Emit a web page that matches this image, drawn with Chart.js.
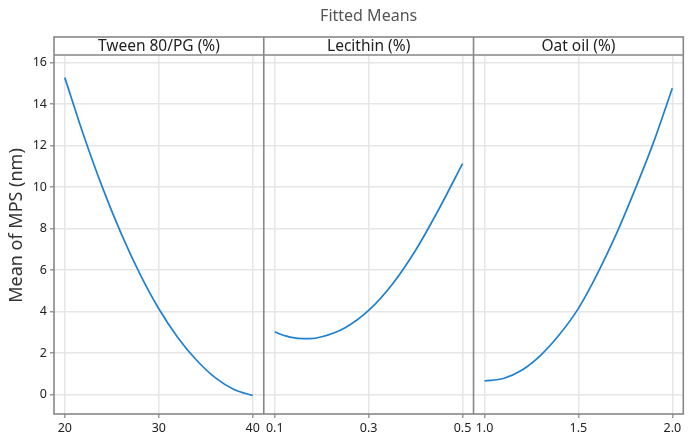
<!DOCTYPE html>
<html><head><meta charset="utf-8">
<script src="https://cdn.jsdelivr.net/npm/chart.js@4.4.1/dist/chart.umd.min.js"></script>
<style>html,body{margin:0;padding:0;background:#fff;}#wrap{width:697px;height:444px;position:relative;}</style>
</head><body><div id="wrap"><canvas id="c" width="697" height="444"></canvas></div>
<script>
const chartTitle = 'Fitted Means';
const yAxisTitle = 'Mean of MPS (nm)';
const panelNames = ['Tween 80/PG (%)', 'Lecithin (%)', 'Oat oil (%)'];

const tweenX = [20, 22, 24, 26, 28, 30, 32, 34, 36, 38, 40];
const tweenY = [15.27, 12.49, 9.98, 7.75, 5.80, 4.13, 2.76, 1.66, 0.81, 0.24, -0.05];
const lecithinX = [0.10, 0.125, 0.15, 0.175, 0.20, 0.25, 0.30, 0.35, 0.40, 0.45, 0.50];
const lecithinY = [3.01, 2.81, 2.70, 2.69, 2.78, 3.22, 4.05, 5.30, 6.95, 8.95, 11.13];
const oatX = [1.0, 1.1, 1.2, 1.3, 1.4, 1.5, 1.6, 1.7, 1.8, 1.9, 2.0];
const oatY = [0.65, 0.77, 1.18, 1.90, 2.90, 4.15, 5.80, 7.70, 9.85, 12.15, 14.76];

const tweenTicks = [20, 30, 40];
const tweenTickLabels = ['20', '30', '40'];
const lecithinTicks = [0.1, 0.3, 0.5];
const lecithinTickLabels = ['0.1', '0.3', '0.5'];
const oatTicks = [1.0, 1.5, 2.0];
const oatTickLabels = ['1.0', '1.5', '2.0'];
const yTicks = [0, 2, 4, 6, 8, 10, 12, 14, 16];

const FONT = 'Noto Sans';
const lineColor = '#1f80d0';
const gridColor = '#e6e6e6';
const frameColor = '#878787';

function pts(xs, ys) { return xs.map((x, i) => ({x: x, y: ys[i]})); }

function xScale(ticks, labels, min, max) {
  return {
    type: 'linear', position: 'bottom', stack: 'panels', stackWeight: 1,
    min: min, max: max,
    afterBuildTicks: s => { s.ticks = ticks.map(v => ({value: v})); },
    afterFit: s => { s.height = 30; },
    ticks: {
      callback: (v, i) => labels[i] !== undefined ? labels[i] : v,
      font: {family: FONT, size: 12.5}, color: '#222', padding: 3,
      maxRotation: 0, autoSkip: false
    },
    grid: {color: gridColor, lineWidth: 1.5, tickLength: 4, tickColor: '#999', drawTicks: true},
    border: {display: false}
  };
}

const frame = {
  id: 'frame',
  afterDraw(chart) {
    const {ctx, chartArea: a, scales} = chart;
    const top = a.top - 18;
    ctx.save();
    ctx.strokeStyle = frameColor;
    ctx.lineWidth = 1.6;
    ctx.strokeRect(a.left, top, a.right - a.left, a.bottom - top);
    ctx.beginPath();
    ctx.moveTo(a.left, a.top); ctx.lineTo(a.right, a.top);
    ['x2', 'x3'].forEach(id => {
      const xx = scales[id].left;
      ctx.moveTo(xx, top); ctx.lineTo(xx, a.bottom);
    });
    ctx.stroke();
    ctx.fillStyle = '#222';
    ctx.font = '15.5px "' + FONT + '"';
    ctx.textAlign = 'center';
    ctx.textBaseline = 'middle';
    ['x1', 'x2', 'x3'].forEach((id, i) => {
      const s = scales[id];
      ctx.fillText(panelNames[i], (s.left + s.right) / 2, (top + a.top) / 2 + 0.5);
    });
    ctx.fillStyle = '#333';
    ctx.font = '18px "' + FONT + '"';
    ctx.translate(17, (top + a.bottom) / 2);
    ctx.rotate(-Math.PI / 2);
    ctx.fillText(yAxisTitle, 0, 0);
    ctx.restore();
  }
};

const ds = (id, data) => ({
  data: data, xAxisID: id, yAxisID: 'y', showLine: true,
  borderColor: lineColor, borderWidth: 1.7, pointRadius: 0,
  cubicInterpolationMode: 'monotone', fill: false
});

new Chart(document.getElementById('c'), {
  type: 'scatter',
  data: {
    datasets: [
      ds('x1', pts(tweenX, tweenY)),
      ds('x2', pts(lecithinX, lecithinY)),
      ds('x3', pts(oatX, oatY))
    ]
  },
  options: {
    responsive: false, animation: false,
    layout: {padding: {left: 0, right: 13.7, top: 0, bottom: 0}},
    plugins: {
      legend: {display: false}, tooltip: {enabled: false},
      title: {
        display: true, text: chartTitle, fullSize: false,
        font: {family: FONT, size: 16, weight: 'normal'}, color: '#555',
        padding: {top: 7, bottom: 28.8}
      }
    },
    scales: {
      x1: xScale(tweenTicks, tweenTickLabels, 18.85, 41.17),
      x2: xScale(lecithinTicks, lecithinTickLabels, 0.0766, 0.5234),
      x3: xScale(oatTicks, oatTickLabels, 0.9415, 2.0585),
      y: {
        type: 'linear', position: 'left', min: -0.94, max: 16.36,
        afterBuildTicks: s => { s.ticks = yTicks.map(v => ({value: v})); },
        afterFit: s => { s.width = 54; },
        ticks: {font: {family: FONT, size: 12.5}, color: '#222', padding: 3},
        grid: {color: gridColor, lineWidth: 1.5, tickLength: 4, tickColor: '#999'},
        border: {display: false}
      }
    }
  },
  plugins: [frame]
});
</script>
</body></html>
